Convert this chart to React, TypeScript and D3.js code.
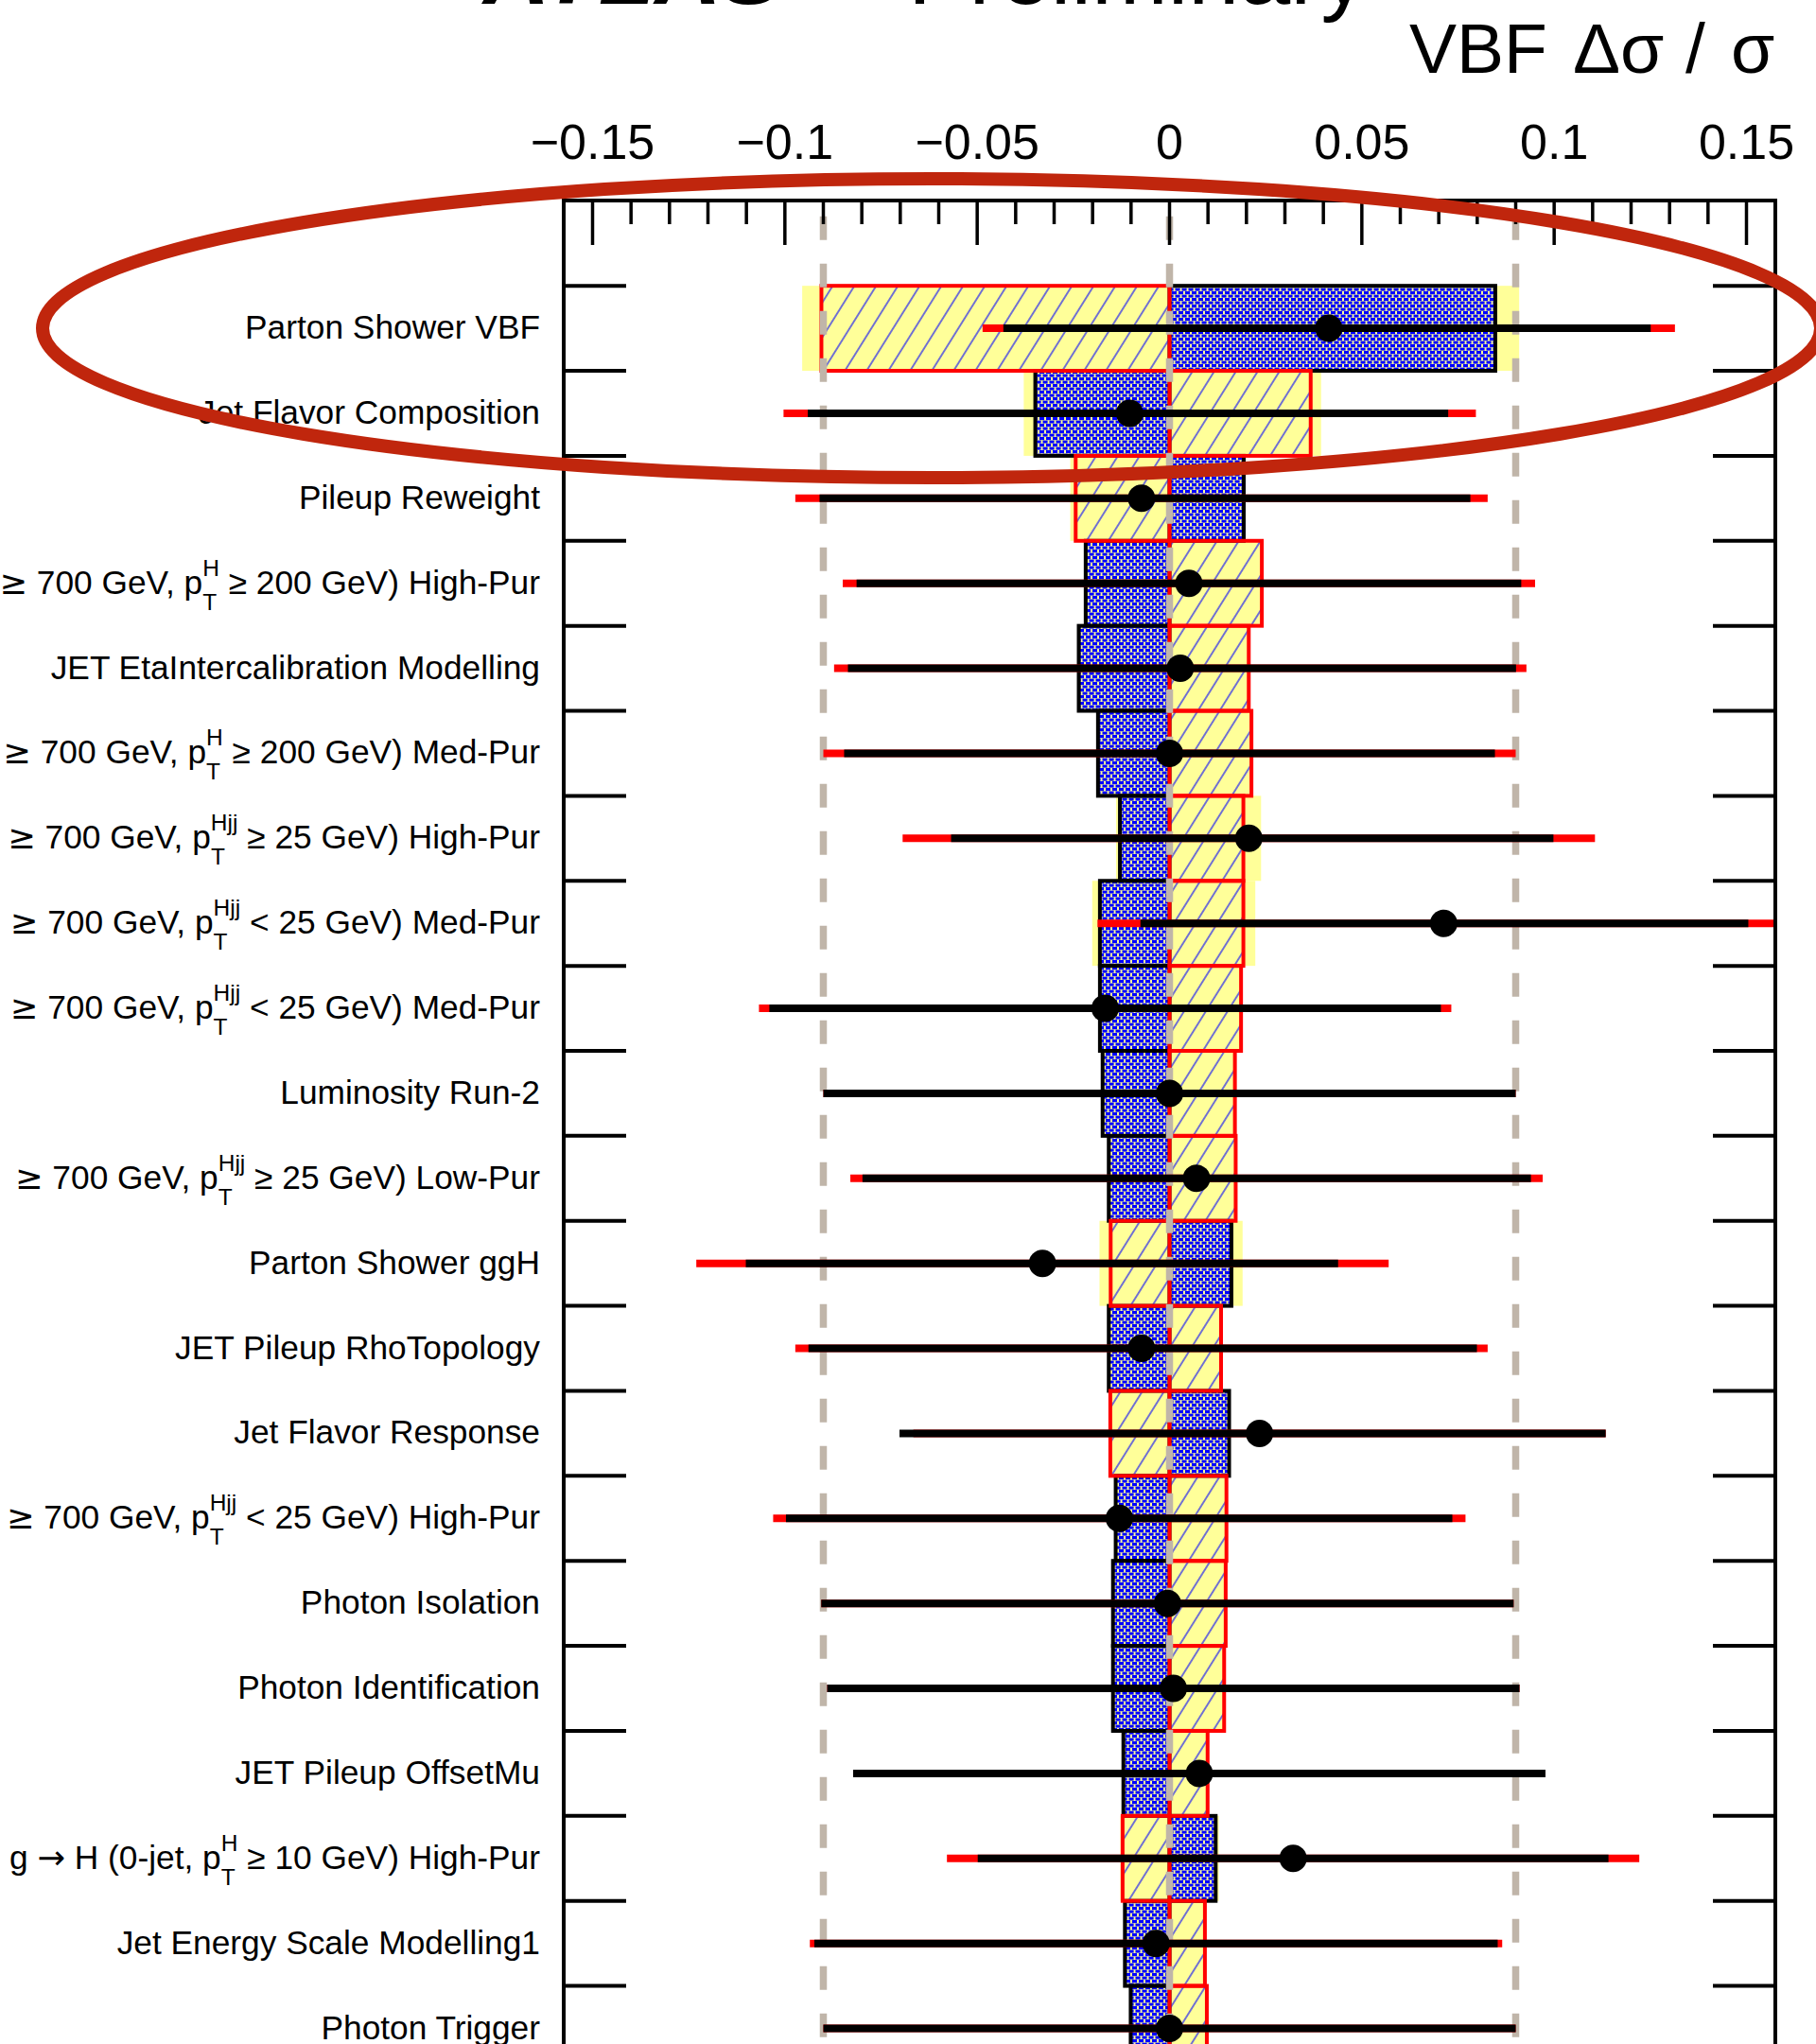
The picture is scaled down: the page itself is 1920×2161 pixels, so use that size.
import React, { useLayoutEffect } from "react";
import * as d3 from "d3";

const W = 1920;
const H = 2161;
const FONT = '"Liberation Sans", Arial, Helvetica, sans-serif';

// Nuisance parameters, ranked by impact (top to bottom)
const parameterLabels = [
  "Parton Shower VBF",
  "Jet Flavor Composition",
  "Pileup Reweight",
  "≥ 700 GeV, p_{T}^{H} ≥ 200 GeV) High-Pur",
  "JET EtaIntercalibration Modelling",
  "≥ 700 GeV, p_{T}^{H} ≥ 200 GeV) Med-Pur",
  "≥ 700 GeV, p_{T}^{Hjj} ≥ 25 GeV) High-Pur",
  "≥ 700 GeV, p_{T}^{Hjj} < 25 GeV) Med-Pur",
  "≥ 700 GeV, p_{T}^{Hjj} < 25 GeV) Med-Pur",
  "Luminosity Run-2",
  "≥ 700 GeV, p_{T}^{Hjj} ≥ 25 GeV) Low-Pur",
  "Parton Shower ggH",
  "JET Pileup RhoTopology",
  "Jet Flavor Response",
  "≥ 700 GeV, p_{T}^{Hjj} < 25 GeV) High-Pur",
  "Photon Isolation",
  "Photon Identification",
  "JET Pileup OffsetMu",
  "g → H (0-jet, p_{T}^{H} ≥ 10 GeV) High-Pur",
  "Jet Energy Scale Modelling1",
  "Photon Trigger",
];

// Post-fit impact on VBF Δσ/σ for +Δθ (dotted boxes) and −Δθ (hatched boxes)
const postfitImpactUp = [
  0.0847, -0.0349, 0.0193, -0.0218, -0.0236, -0.0186, -0.0129, -0.0181, -0.0181, -0.0174, -0.0158,
  0.0161, -0.0158, 0.0155, -0.014, -0.0147, -0.0147, -0.012, 0.012, -0.0116, -0.0101,
];
const postfitImpactDown = [
  -0.0905, 0.0367, -0.0244, 0.024, 0.0206, 0.0213, 0.0192, 0.0192, 0.0186, 0.017, 0.0172,
  -0.0153, 0.0134, -0.0154, 0.0148, 0.0146, 0.0142, 0.0099, -0.0122, 0.0092, 0.0097,
];
// Pre-fit impact (yellow boxes)
const prefitImpactUp = [
  0.0909, -0.0379, 0.0193, -0.0218, -0.0236, -0.0186, -0.0139, -0.0201, -0.0185, -0.0174, -0.0158,
  0.019, -0.0158, 0.0155, -0.014, -0.0147, -0.0147, -0.012, 0.0128, -0.0116, -0.0101,
];
const prefitImpactDown = [
  -0.0955, 0.0394, -0.0258, 0.0243, 0.0206, 0.0213, 0.0238, 0.0223, 0.0186, 0.017, 0.0172,
  -0.0182, 0.0134, -0.0154, 0.0148, 0.0146, 0.0142, 0.0099, -0.0128, 0.0092, 0.0097,
];

// Pulls (θ̂ − θ0)/Δθ with post-fit and pre-fit uncertainties
const pullCentral = [
  0.46, -0.115, -0.081, 0.056, 0.031, 0.0, 0.229, 0.792, -0.186, 0.0, 0.078,
  -0.367, -0.081, 0.26, -0.145, -0.006, 0.011, 0.086, 0.357, -0.039, 0.0,
];
const pullErrLow = [
  0.94, 0.93, 0.93, 0.96, 0.96, 0.94, 0.86, 0.876, 0.97, 1.0, 0.965,
  0.857, 0.962, 1.04, 0.963, 1.0, 1.0, 1.0, 0.911, 0.987, 1.0,
];
const pullErrHigh = [
  0.93, 0.92, 0.95, 0.96, 0.97, 0.94, 0.88, 0.88, 0.97, 1.0, 0.966,
  0.854, 0.969, 1.0, 0.962, 1.0, 1.0, 1.0, 0.911, 0.987, 1.0,
];
const prefitPullErr = [
  1.0, 1.0, 1.0, 1.0, 1.0, 1.0, 1.0, 1.0, 1.0, 1.0, 1.0,
  1.0, 1.0, 1.0, 1.0, 1.0, 1.0, 1.0, 1.0, 1.0, 1.0,
];
const pullReferenceLines = [-1, 0, 1];

const impactDomain: [number, number] = [-0.1575, 0.1575];
const pullDomain: [number, number] = [-1.75, 1.75];

const FRAME_L = 596;
const FRAME_R = 1877;
const FRAME_T = 212;
const ROW0 = 212.3;
const ROW_H = 89.87;

const LABEL_SIZE = 35.3;
const SCRIPT_SIZE = 24.5;
const SYMBOL_FAMILY = '"DejaVu Sans", sans-serif';

let measureCtx: CanvasRenderingContext2D | null = null;
function textWidth(s: string, size: number) {
  if (!measureCtx) measureCtx = document.createElement("canvas").getContext("2d");
  if (!measureCtx) return s.length * size * 0.55;
  measureCtx.font = `${size}px "Liberation Sans", Arial, sans-serif`;
  return measureCtx.measureText(s).width;
}

function fmtTick(v: number) {
  const r = Math.round(v * 100) / 100;
  if (r === 0) return "0";
  return (r < 0 ? "\u2212" : "") + String(Math.abs(r));
}

// Leading text run: a leading "≥" and any arrow are set in wider symbol glyphs
function leadingRun(s: string) {
  const out: React.ReactNode[] = [];
  let rest = s;
  if (rest.startsWith("≥")) {
    out.push(
      <tspan key="ge" fontFamily={SYMBOL_FAMILY}>
        ≥
      </tspan>
    );
    rest = rest.slice(1);
  }
  rest.split("→").forEach((p, k) => {
    if (k > 0)
      out.push(
        <tspan key={`a${k}`} fontFamily={SYMBOL_FAMILY}>
          →
        </tspan>
      );
    if (p) out.push(<tspan key={`t${k}`}>{p}</tspan>);
  });
  return out;
}

function RowLabel({ text, x, y }: { text: string; x: number; y: number }) {
  const m = text.match(/^(.*)p_\{(.*?)\}\^\{(.*?)\}(.*)$/);
  if (!m) {
    return (
      <text x={x} y={y} textAnchor="end" fontSize={LABEL_SIZE}>
        {text}
      </text>
    );
  }
  const [, pre, sub, sup, post] = m;
  const supW = textWidth(sup, SCRIPT_SIZE);
  const subW = textWidth(sub, SCRIPT_SIZE);
  const stack = Math.max(supW, subW);
  return (
    <text x={x} y={y} textAnchor="end" fontSize={LABEL_SIZE}>
      {leadingRun(pre + "p")}
      <tspan fontSize={SCRIPT_SIZE} dy={-19}>
        {sup}
      </tspan>
      <tspan fontSize={SCRIPT_SIZE} dx={-supW} dy={36}>
        {sub}
      </tspan>
      <tspan dx={stack - subW} dy={-17}>
        {post}
      </tspan>
    </text>
  );
}

export default function App() {
  useLayoutEffect(() => {
    document.body.style.margin = "0";
  }, []);

  const x = d3.scaleLinear().domain(impactDomain).range([FRAME_L, FRAME_R]);
  const xp = d3.scaleLinear().domain(pullDomain).range([FRAME_L, FRAME_R]);
  const n = parameterLabels.length;
  const y = d3.scaleLinear().domain([-1, n]).range([ROW0, ROW0 + (n + 1) * ROW_H]);

  const minorTicks = x.ticks(30);
  const majorTicks = x.ticks(6);
  const rowIdx = d3.range(n);
  const boundaries = d3.range(0, n + 1);

  const box = (i: number, v: number) => {
    const x0 = Math.min(x(0), x(v));
    const x1 = Math.max(x(0), x(v));
    return { x: x0, y: y(i), width: x1 - x0, height: y(i + 1) - y(i) };
  };

  return (
    <svg
      width={W}
      height={H}
      viewBox={`0 0 ${W} ${H}`}
      style={{ display: "block", background: "#ffffff", fontFamily: FONT }}
    >
      <defs>
        <clipPath id="plotArea">
          <rect x={FRAME_L} y={FRAME_T} width={FRAME_R - FRAME_L} height={H} />
        </clipPath>
        <pattern id="dots" patternUnits="userSpaceOnUse" width={7} height={7}>
          <rect x={0} y={0} width={5} height={3.2} fill="#0000ff" />
          <rect x={3.5} y={3.6} width={3.5} height={3} fill="#0000ff" />
          <rect x={0} y={3.6} width={1.6} height={3} fill="#0000ff" />
        </pattern>
        <pattern
          id="hatch"
          patternUnits="userSpaceOnUse"
          width={19.5}
          height={19.5}
          patternTransform="rotate(32)"
        >
          <line x1={9.75} y1={0} x2={9.75} y2={19.5} stroke="#0000ff" strokeWidth={1.1} />
        </pattern>
      </defs>

      <rect x={0} y={0} width={W} height={H} fill="#ffffff" />

      {/* Experiment label */}
      <text x={511} y={3.5} fontSize={97} fontWeight="bold" fontStyle="italic">
        ATLAS
      </text>
      <text x={1445} y={3.5} fontSize={97} textAnchor="end">
        Preliminary
      </text>

      {/* Axis title */}
      <text y={77} fontSize={75}>
        <tspan x={1490}>VBF</tspan>
        <tspan x={1663}>Δσ</tspan>
        <tspan x={1782}>/</tspan>
        <tspan x={1830}>σ</tspan>
      </text>

      <g clipPath="url(#plotArea)">
        {/* pre-fit impacts */}
        {rowIdx.map((i) => (
          <g key={`pre${i}`}>
            <rect {...box(i, prefitImpactUp[i])} fill="#ffff99" />
            <rect {...box(i, prefitImpactDown[i])} fill="#ffff99" />
          </g>
        ))}
        {/* post-fit +Δθ impacts */}
        {rowIdx.map((i) => (
          <rect
            key={`up${i}`}
            {...box(i, postfitImpactUp[i])}
            fill="url(#dots)"
            stroke="#000000"
            strokeWidth={4}
          />
        ))}
        {/* post-fit −Δθ impacts */}
        {rowIdx.map((i) => (
          <rect
            key={`dn${i}`}
            {...box(i, postfitImpactDown[i])}
            fill="url(#hatch)"
            stroke="#ff0000"
            strokeWidth={4}
          />
        ))}

        {/* pull reference lines */}
        {pullReferenceLines.map((p) => (
          <line
            key={`ref${p}`}
            x1={xp(p)}
            x2={xp(p)}
            y1={FRAME_T}
            y2={H + 20}
            stroke="#c0b5a9"
            strokeWidth={7.5}
            strokeDasharray="25 25"
            strokeDashoffset={33.2}
          />
        ))}

        {/* pulls */}
        {rowIdx.map((i) => {
          const cy = y(i + 0.5);
          return (
            <g key={`pull${i}`}>
              <line
                x1={xp(pullCentral[i] - prefitPullErr[i])}
                x2={xp(pullCentral[i] + prefitPullErr[i])}
                y1={cy}
                y2={cy}
                stroke="#ff0000"
                strokeWidth={8}
              />
              <line
                x1={xp(pullCentral[i] - pullErrLow[i])}
                x2={xp(pullCentral[i] + pullErrHigh[i])}
                y1={cy}
                y2={cy}
                stroke="#000000"
                strokeWidth={8}
              />
              <circle cx={xp(pullCentral[i])} cy={cy} r={14.5} fill="#000000" />
            </g>
          );
        })}
      </g>

      {/* frame */}
      <rect
        x={FRAME_L}
        y={FRAME_T}
        width={FRAME_R - FRAME_L}
        height={H + 50}
        fill="none"
        stroke="#000000"
        strokeWidth={4}
      />

      {/* top axis ticks */}
      {minorTicks.map((t) => {
        const major = Math.abs(Math.round(t * 100)) % 5 === 0;
        return (
          <line
            key={`t${t}`}
            x1={x(t)}
            x2={x(t)}
            y1={FRAME_T}
            y2={FRAME_T + (major ? 47 : 25)}
            stroke="#000000"
            strokeWidth={3.5}
          />
        );
      })}
      {majorTicks.map((t) => (
        <text key={`tl${t}`} x={x(t)} y={168} fontSize={52} textAnchor="middle">
          {fmtTick(t)}
        </text>
      ))}

      {/* row ticks on both sides */}
      {boundaries.map((b) => (
        <g key={`rb${b}`}>
          <line x1={FRAME_L} x2={FRAME_L + 66} y1={y(b)} y2={y(b)} stroke="#000000" strokeWidth={4} />
          <line x1={FRAME_R - 66} x2={FRAME_R} y1={y(b)} y2={y(b)} stroke="#000000" strokeWidth={4} />
        </g>
      ))}

      {/* parameter names */}
      {rowIdx.map((i) => (
        <RowLabel key={`lab${i}`} text={parameterLabels[i]} x={571} y={y(i + 0.5) + 11} />
      ))}

      {/* highlight */}
      <ellipse cx={985} cy={347} rx={940} ry={158} fill="none" stroke="#c0260d" strokeWidth={14} />
    </svg>
  );
}
